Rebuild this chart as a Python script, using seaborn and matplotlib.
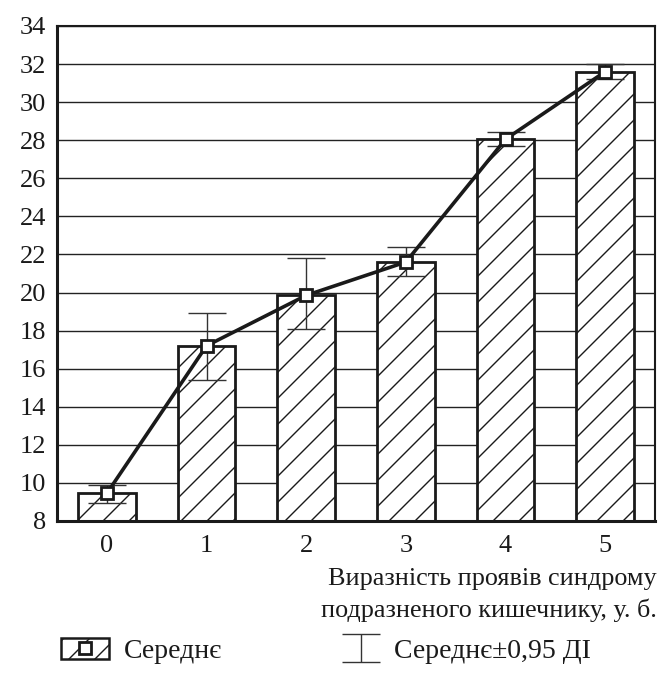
import numpy as np
import matplotlib
matplotlib.use("Agg")
import matplotlib.pyplot as plt
import pandas as pd
import seaborn as sns
from matplotlib.patches import Patch
from matplotlib.lines import Line2D

# ---------------- data ----------------
levels = ["0", "1", "2", "3", "4", "5"]
means = [9.45, 17.2, 19.85, 21.6, 28.05, 31.6]
ci_low = [8.95, 15.4, 18.1, 20.85, 27.7, 31.2]
ci_high = [9.9, 18.95, 21.8, 22.4, 28.45, 32.0]
yticks = list(range(8, 35, 2))

xlabel_lines = ["Виразність проявів синдрому", "подразненого кишечнику, у. б."]
legend_mean = "Середнє"
legend_ci = "Середнє±0,95 ДІ"

# low dpi so the single '/' hatch gets the wider line spacing of the original;
# every size below is scaled back so it looks as it would at 100 dpi
DPI = 78
S = 100 / DPI

sns.set_theme(style="white")
plt.rcParams['font.family'] = ['Liberation Serif', 'DejaVu Serif']
plt.rcParams['hatch.linewidth'] = 1.0 * S
plt.rcParams['hatch.color'] = '#1a1a1a'

df = pd.DataFrame({"level": levels, "mean": means})
err = np.array([np.array(means) - np.array(ci_low), np.array(ci_high) - np.array(means)])

fig = plt.figure(figsize=(666 / DPI, 673 / DPI), dpi=DPI)
ax = fig.add_axes([0.0856, 0.2259, 0.8979, 0.7355])

# horizontal grid lines
for yv in yticks:
    ax.axhline(yv, color='#222222', lw=1.0 * S, zorder=0)

sns.barplot(data=df, x="level", y="mean", color="white", edgecolor="#1a1a1a",
            linewidth=2.0 * S, width=0.58, hatch="/", ax=ax, zorder=2)

# error bars (+-0.95 CI)
eb = ax.errorbar(np.arange(len(levels)), means, yerr=err, fmt='none',
                 ecolor='#333333', elinewidth=1.0 * S, capsize=14 * S,
                 capthick=1.0 * S, zorder=3)

# mean line with square markers
sns.lineplot(x=np.arange(len(levels)), y=means, ax=ax, color='#1a1a1a', lw=2.6 * S,
             marker='s', markersize=8.5 * S, markerfacecolor='white',
             markeredgecolor='#1a1a1a', markeredgewidth=2.0 * S, zorder=4)

ax.set_ylim(8, 34)
ax.set_xlim(-0.5, 5.5)
ax.set_yticks(yticks)
ax.set_yticklabels([str(v) for v in yticks], fontsize=19 * S)
ax.set_xticks(np.arange(len(levels)))
ax.set_xticklabels(levels, fontsize=19 * S)
ax.set_xticks(np.arange(-0.5, 6.0, 1.0), minor=True)
ax.tick_params(axis='x', which='major', length=0, pad=10 * S, colors='#1a1a1a')
ax.tick_params(axis='x', which='minor', length=14 * S, width=1.2 * S, color='#1a1a1a',
               direction='out')
ax.tick_params(axis='y', length=6 * S, width=1.2 * S, color='#1a1a1a', direction='out',
               pad=2 * S)
ax.tick_params(labelcolor='#1a1a1a')
ax.set_xlabel("")
ax.set_ylabel("")
for s in ['top', 'right']:
    ax.spines[s].set_linewidth(1.5 * S)
    ax.spines[s].set_color('#1a1a1a')
for s in ['left', 'bottom']:
    ax.spines[s].set_linewidth(2.2 * S)
    ax.spines[s].set_color('#1a1a1a')

# axis title, two right-aligned lines below the category labels
for line, ypix in zip(xlabel_lines, [585, 617]):
    fig.text(0.986, 1 - ypix / 673, line, ha='right', va='baseline', fontsize=18.8 * S,
             color='#1a1a1a')

# legend
h_mean = (Patch(facecolor='white', edgecolor='#1a1a1a', hatch='/', linewidth=1.8 * S),
          Line2D([], [], marker='s', ls='none', markersize=9 * S, markerfacecolor='white',
                 markeredgecolor='#1a1a1a', markeredgewidth=2.0 * S))
leg1 = fig.legend([h_mean], [legend_mean], loc='center left',
                  bbox_to_anchor=(61 / 666, 1 - 651 / 673),
                  frameon=False, fontsize=20 * S, handlelength=1.73, handleheight=0.8,
                  handletextpad=0.55, borderpad=0, borderaxespad=0)
leg2 = fig.legend([eb], [legend_ci], loc='center left',
                  bbox_to_anchor=(343 / 666, 1 - 651 / 673),
                  frameon=False, fontsize=20 * S, handlelength=1.33, handleheight=0.8,
                  handletextpad=0.52, borderpad=0, borderaxespad=0)
for t in list(leg1.get_texts()) + list(leg2.get_texts()):
    t.set_color('#1a1a1a')

fig.savefig("out.png", dpi=DPI)
